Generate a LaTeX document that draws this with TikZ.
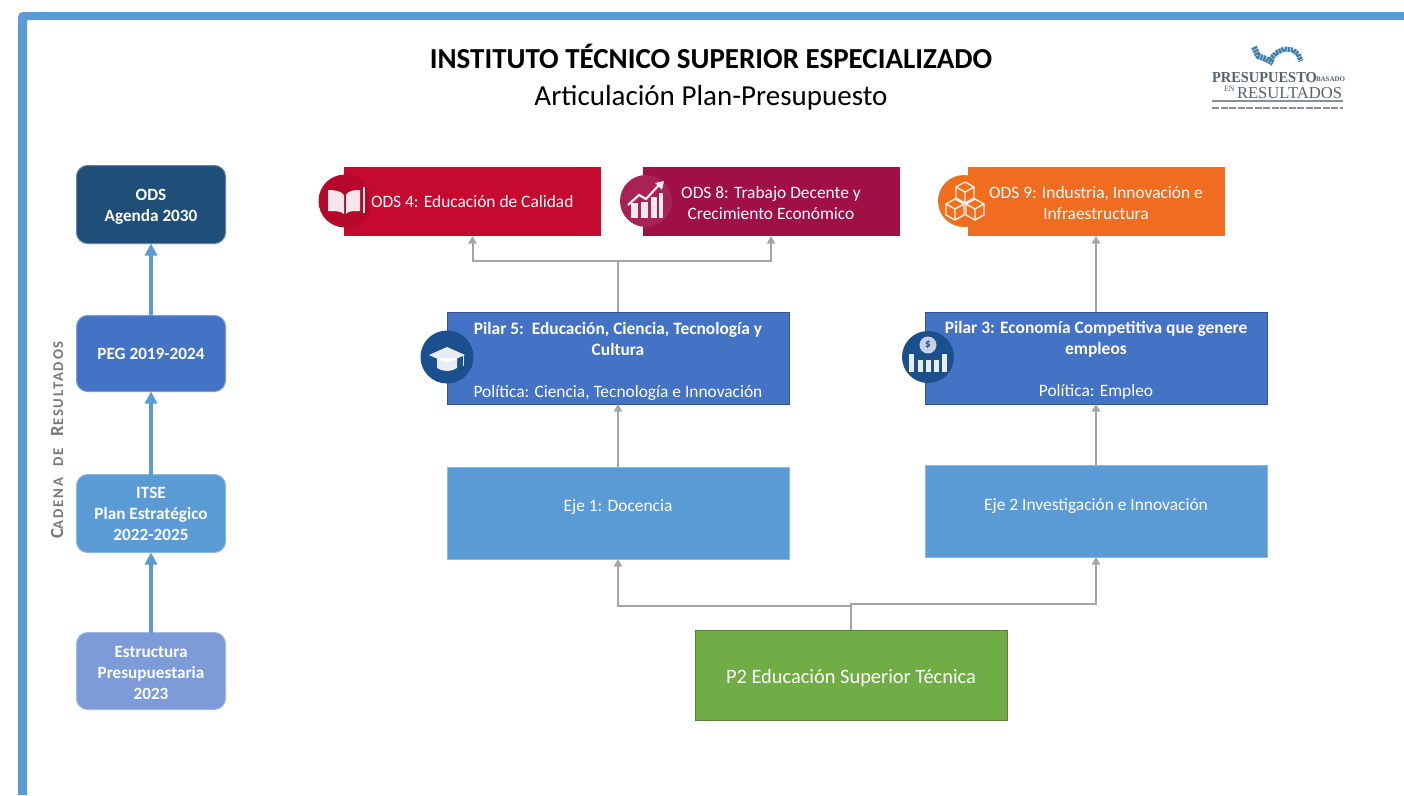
\documentclass[tikz,border=0pt]{standalone}
\usepackage{fontspec}
\setmainfont{Carlito}
\newfontfamily\logofont{Liberation Serif}
\newfontfamily\sidefont[LetterSpace=12]{Carlito}
\usetikzlibrary{arrows.meta,calc}
\definecolor{frameblue}{HTML}{5B9BD5}
\definecolor{navy}{HTML}{1F4E79}
\definecolor{royal}{HTML}{4472C4}
\definecolor{pale}{HTML}{7C9BD8}
\definecolor{crimson}{HTML}{C5092F}
\definecolor{wine}{HTML}{A01044}
\definecolor{tangerine}{HTML}{EF6C21}
\definecolor{leaf}{HTML}{70AD47}
\definecolor{linegray}{HTML}{A5A5A5}
\definecolor{logogray}{HTML}{55626E}
\definecolor{discblue}{HTML}{1C4F8E}
\definecolor{mapblue}{HTML}{3F7FA6}
\newcommand{\fs}[1]{\fontsize{#1}{#1}\selectfont}
\tikzset{
  x=1pt,y=-1pt,
  every node/.style={inner sep=0pt,outer sep=0pt},
  chainbox/.style={rounded corners=11pt,minimum width=149pt,draw=#1!70!white,line width=1pt},
  chaintext/.style={text=white,align=center,font=\fontsize{17.2}{21}\selectfont\bfseries},
  flatbox/.style={minimum width=257pt,minimum height=69pt},
  bigbox/.style={minimum width=342pt,minimum height=92pt},
  boxtext/.style={text=white,align=center,font=\fontsize{17.4}{21}\selectfont},
  chainarrow/.style={draw=frameblue,line width=3.6pt,-{Triangle[length=12pt,width=12pt]},shorten >=0pt},
  grayarrow/.style={draw=linegray,line width=2pt,-{Triangle[length=7.5pt,width=8pt]}},
  glyph/.style={fill=white,draw=none,opacity=.9},
  glyphline/.style={draw=white,opacity=.9,fill=none},
}
\begin{document}
\begin{tikzpicture}
\useasboundingbox (0,0) rectangle (1404,795);
\fill[white] (0,0) rectangle (1404,795);
% frame
\fill[frameblue] (1404,12) -- (23,12) arc[start angle=90,end angle=180,radius=5pt] -- (18,795) -- (27,795) -- (27,20) -- (1404,20) -- cycle;

% titles
\node[font=\fs{29}\bfseries] (title) at (711,56) {INSTITUTO TÉCNICO SUPERIOR ESPECIALIZADO};
\node[font=\fs{29}] (subtitle) at (711,98) {Articulación Plan-Presupuesto};

% logo
\draw[mapblue,line width=6pt,dash pattern=on 2.4pt off .7pt,line join=round]
  (1254,47) -- (1258,56) -- (1266,59) -- (1273,63);
\draw[mapblue,line width=5pt,dash pattern=on 2.4pt off .7pt,line join=round]
  (1270,60) -- (1276,53) -- (1284,49) -- (1293,50) -- (1298,54) -- (1301,61);
\node[font=\logofont\fs{15.2}\bfseries,text=logogray,anchor=base west,xscale=.95] (logoA) at (1212,82) {PRESUPUESTO};
\node[font=\logofont\fs{7}\bfseries,text=logogray,anchor=base west] (logoB) at (1316,81) {BASADO};
\node[font=\logofont\fs{8},text=logogray,anchor=base west] (logoC) at (1224,91) {EN};
\node[font=\logofont\fs{16.6},text=logogray,anchor=base west] (logoD) at (1237,98) {RESULTADOS};
\fill[logogray!70] (1212,100) rectangle (1343,102);
\draw[logogray!70,line width=1.6pt,dash pattern=on 7pt off 1.5pt] (1212,108) -- (1343,108);

% side label
\node[rotate=90,text=gray!95!black,font=\sidefont\bfseries] (side) at (57,440)
  {\fs{18.6}C\fs{14.8}ADENA \fs{18.6}\ \fs{14.8}DE \fs{18.6}\ R\fs{14.8}ESULTADOS};

% results chain
\node[chainbox=navy,fill=navy,minimum height=78pt] (ods) at (151,204.5) {};
\node[chainbox=royal,fill=royal,minimum height=76pt] (peg) at (151,353.5) {};
\node[chainbox=frameblue,fill=frameblue,minimum height=78pt] (itse) at (151,513.5) {};
\node[chainbox=pale,fill=pale,minimum height=77pt] (estr) at (151,671) {};
\node[chaintext] (odst) at (151,206.5) {ODS\\Agenda 2030};
\node[chaintext] (pegt) at (151,353.5) {PEG 2019-2024};
\node[chaintext] (itset) at (151,514) {ITSE\\Plan Estratégico\\2022-2025};
\node[chaintext] (estrt) at (151,673) {Estructura\\Presupuestaria\\2023};
\draw[chainarrow] (estr.north) -- (itse.south);
\draw[chainarrow] (itse.north) -- (peg.south);
\draw[chainarrow] (peg.north) -- (ods.south);

% ODS boxes
\node[flatbox,fill=crimson] (odsA) at (472.5,201.5) {};
\node[flatbox,fill=wine] (odsB) at (771,201.5) {};
\node[flatbox,fill=tangerine] (odsC) at (1096,201.5) {};
\node[boxtext,anchor=west] (odsAt) at (371,201.5) {ODS 4: Educación de Calidad};
\node[boxtext] (odsBt) at (771,203.5) {ODS 8: Trabajo Decente y\\Crecimiento Económico};
\node[boxtext] (odsCt) at (1096,203.5) {ODS 9: Industria, Innovación e\\Infraestructura};

% pilar boxes
\node[bigbox,fill=royal,draw=royal!75!black,line width=1pt] (pilA) at (618,358) {};
\node[bigbox,fill=royal,draw=royal!75!black,line width=1pt] (pilB) at (1096,358) {};
\node[boxtext] (pilAt) at (618,361.5) {\bfseries Pilar 5:\ \ Educación, Ciencia, Tecnología y\\\bfseries Cultura\\[21pt]Política: Ciencia, Tecnología e Innovación};
\node[boxtext] (pilBt) at (1096,360.5) {\bfseries Pilar 3: Economía Competitiva que genere\\\bfseries empleos\\[21pt]Política: Empleo};

% axis boxes
\node[bigbox,fill=frameblue,draw=frameblue!70!white,line width=1pt] (ejeA) at (618,513) {};
\node[bigbox,fill=frameblue,draw=frameblue!70!white,line width=1pt] (ejeB) at (1096,511) {};
\node[boxtext] (ejeAt) at (618,507) {Eje 1: Docencia};
\node[boxtext] (ejeBt) at (1096,506) {Eje 2 Investigación e Innovación};

% programme box
\node[minimum width=312pt,minimum height=90pt,fill=leaf,draw=leaf!75!black,line width=1pt] (prog) at (851,675) {};
\node[boxtext,font=\fs{20.4}] (progt) at (851,678) {P2 Educación Superior Técnica};

% connectors
\draw[grayarrow] (prog.north) -- ++(0,-24) -| (ejeA.south);
\draw[grayarrow] (prog.north) -- ++(0,-26) -| (ejeB.south);
\draw[grayarrow] (ejeA.north) -- (pilA.south);
\draw[grayarrow] (ejeB.north) -- (pilB.south);
\draw[grayarrow] (pilA.north) -- ++(0,-51) -| (odsA.south);
\draw[grayarrow] (pilA.north) -- ++(0,-51) -| (odsB.south);
\draw[grayarrow] (pilB.north) -- (odsC.south);

% icon discs
\node[circle,minimum size=53pt,fill=crimson!92!black,draw=none] (discA) at (345,201) {};
\node[circle,minimum size=52pt,fill=wine!92!white,draw=none] (discB) at (646,201) {};
\node[circle,minimum size=52pt,fill=tangerine!85!orange,draw=none] (discC) at (964,201) {};
\node[circle,minimum size=53pt,fill=discblue,draw=none] (discD) at (447,357) {};
\node[circle,minimum size=52pt,fill=discblue,draw=none] (discE) at (928,357) {};

% book
\begin{scope}[shift={(discA.center)}]
  \fill[glyph] (-17,-11) .. controls (-10,-11) and (-4,-10) .. (-1,-6) -- (-1,13) .. controls (-4,10) and (-10,10) .. (-17,10) -- cycle;
  \fill[glyph] (15,-11) .. controls (8,-11) and (3,-10) .. (1,-6) -- (1,13) .. controls (3,10) and (8,10) .. (15,10) -- cycle;
  \fill[glyph] (18,-14) rectangle (19.5,12);
\end{scope}
% chart
\begin{scope}[shift={(discB.center)}]
  \fill[glyph] (-15,2) rectangle (-8,17);
  \fill[glyph] (-5,1) rectangle (2,17);
  \fill[glyph] (5,-4) rectangle (11,17);
  \fill[glyph] (12.5,-8) rectangle (17,17);
  \draw[glyphline,line width=2.2pt] (-18,4) -- (-7,-6) -- (0,-2) -- (13,-16);
  \fill[glyph] (9,-18) -- (18,-20) -- (16,-11) -- cycle;
\end{scope}
% cubes
\begin{scope}[shift={(discC.center)},glyphline,line width=1.4pt,line join=round]
  \foreach \cx/\cy in {1/-9,-9/8,11/8}{
    \draw (\cx-9,\cy-5) -- (\cx,\cy-10) -- (\cx+9,\cy-5) -- (\cx+9,\cy+6) -- (\cx,\cy+11) -- (\cx-9,\cy+6) -- cycle;
    \draw (\cx-9,\cy-5) -- (\cx,\cy) -- (\cx+9,\cy-5) (\cx,\cy) -- (\cx,\cy+11);
  }
\end{scope}
% graduation cap
\begin{scope}[shift={(discD.center)}]
  \fill[glyph] (-10,1) -- (10,1) -- (10,11) .. controls (4,15) and (-4,15) .. (-10,11) -- cycle;
  \fill[glyph] (-18,-2) -- (0,-10) -- (18,-2) -- (0,6) -- cycle;
  \draw[glyphline,line width=1pt] (16,-1) -- (16,9);
\end{scope}
% coin and bars
\begin{scope}[shift={(discE.center)}]
  \fill[white,opacity=.75] (0,-12) circle[radius=8.5pt];
  \node[text=discblue,font=\fs{11}\bfseries] (coin) at (0,-12) {\$};
  \fill[glyph] (-19,-3) rectangle (-14,15);
  \fill[glyph] (-10,3) rectangle (-5,15);
  \fill[glyph] (-2,3) rectangle (3,15);
  \fill[glyph] (6,3) rectangle (11,15);
  \fill[glyph] (14,-3) rectangle (19,15);
\end{scope}
\end{tikzpicture}
\end{document}
